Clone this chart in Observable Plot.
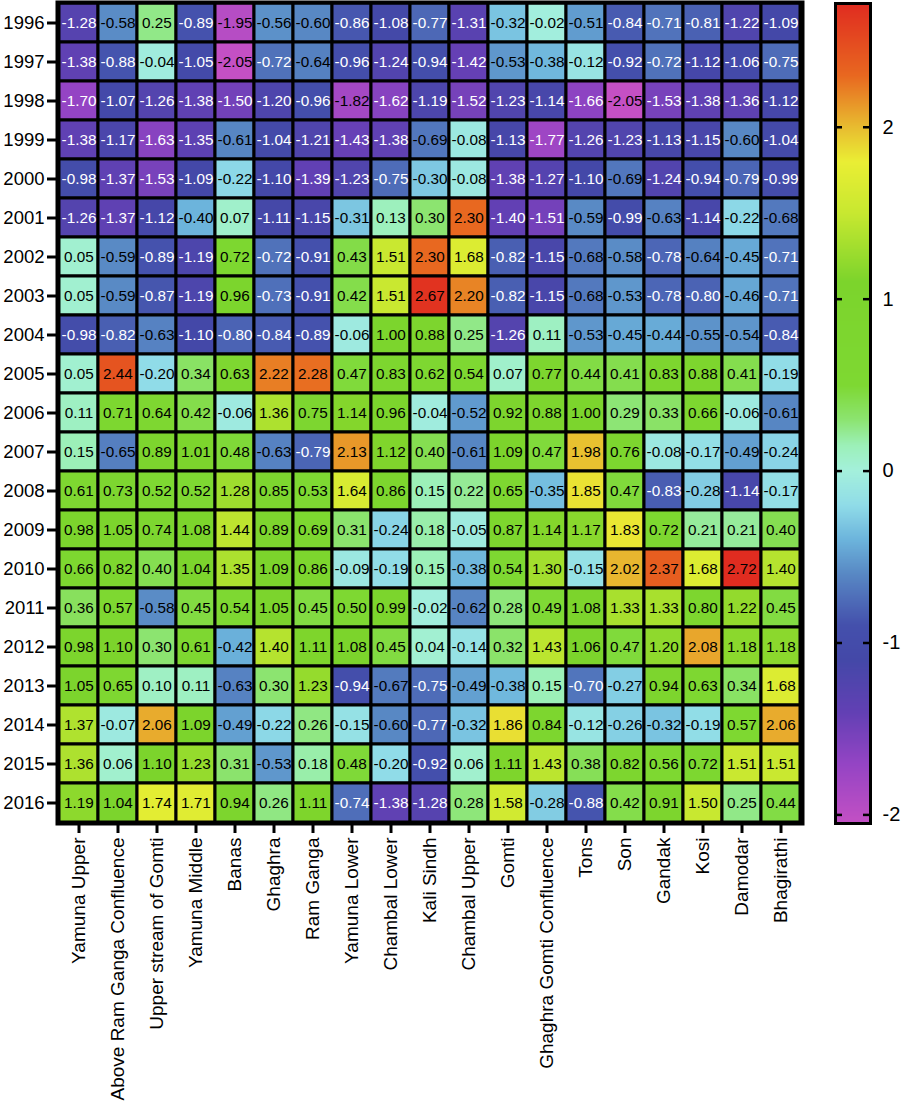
<!DOCTYPE html>
<html>
<head>
<meta charset="utf-8">
<script src="https://cdn.jsdelivr.net/npm/d3@7"></script>
<script src="https://cdn.jsdelivr.net/npm/@observablehq/plot@0.6"></script>
<style>
  html, body { margin: 0; padding: 0; background: #fff; overflow: hidden; }
  #wrap { position: relative; width: 903px; height: 1107px; font-family: "Liberation Sans", Arial, sans-serif; }
  #wrap svg { position: absolute; left: 0; top: 0; background: transparent; overflow: visible; }
</style>
</head>
<body>
<div id="wrap"></div>
<script>
const rivers = ["Yamuna Upper", "Above Ram Ganga Confluence", "Upper stream of Gomti", "Yamuna Middle", "Banas", "Ghaghra", "Ram Ganga", "Yamuna Lower", "Chambal Lower", "Kali Sindh", "Chambal Upper", "Gomti", "Ghaghra Gomti Confluence", "Tons", "Son", "Gandak", "Kosi", "Damodar", "Bhagirathi"];
const years = ["1996", "1997", "1998", "1999", "2000", "2001", "2002", "2003", "2004", "2005", "2006", "2007", "2008", "2009", "2010", "2011", "2012", "2013", "2014", "2015", "2016"];
const values = [
  [-1.28, -0.58, 0.25, -0.89, -1.95, -0.56, -0.60, -0.86, -1.08, -0.77, -1.31, -0.32, -0.02, -0.51, -0.84, -0.71, -0.81, -1.22, -1.09],
  [-1.38, -0.88, -0.04, -1.05, -2.05, -0.72, -0.64, -0.96, -1.24, -0.94, -1.42, -0.53, -0.38, -0.12, -0.92, -0.72, -1.12, -1.06, -0.75],
  [-1.70, -1.07, -1.26, -1.38, -1.50, -1.20, -0.96, -1.82, -1.62, -1.19, -1.52, -1.23, -1.14, -1.66, -2.05, -1.53, -1.38, -1.36, -1.12],
  [-1.38, -1.17, -1.63, -1.35, -0.61, -1.04, -1.21, -1.43, -1.38, -0.69, -0.08, -1.13, -1.77, -1.26, -1.23, -1.13, -1.15, -0.60, -1.04],
  [-0.98, -1.37, -1.53, -1.09, -0.22, -1.10, -1.39, -1.23, -0.75, -0.30, -0.08, -1.38, -1.27, -1.10, -0.69, -1.24, -0.94, -0.79, -0.99],
  [-1.26, -1.37, -1.12, -0.40, 0.07, -1.11, -1.15, -0.31, 0.13, 0.30, 2.30, -1.40, -1.51, -0.59, -0.99, -0.63, -1.14, -0.22, -0.68],
  [0.05, -0.59, -0.89, -1.19, 0.72, -0.72, -0.91, 0.43, 1.51, 2.30, 1.68, -0.82, -1.15, -0.68, -0.58, -0.78, -0.64, -0.45, -0.71],
  [0.05, -0.59, -0.87, -1.19, 0.96, -0.73, -0.91, 0.42, 1.51, 2.67, 2.20, -0.82, -1.15, -0.68, -0.53, -0.78, -0.80, -0.46, -0.71],
  [-0.98, -0.82, -0.63, -1.10, -0.80, -0.84, -0.89, -0.06, 1.00, 0.88, 0.25, -1.26, 0.11, -0.53, -0.45, -0.44, -0.55, -0.54, -0.84],
  [0.05, 2.44, -0.20, 0.34, 0.63, 2.22, 2.28, 0.47, 0.83, 0.62, 0.54, 0.07, 0.77, 0.44, 0.41, 0.83, 0.88, 0.41, -0.19],
  [0.11, 0.71, 0.64, 0.42, -0.06, 1.36, 0.75, 1.14, 0.96, -0.04, -0.52, 0.92, 0.88, 1.00, 0.29, 0.33, 0.66, -0.06, -0.61],
  [0.15, -0.65, 0.89, 1.01, 0.48, -0.63, -0.79, 2.13, 1.12, 0.40, -0.61, 1.09, 0.47, 1.98, 0.76, -0.08, -0.17, -0.49, -0.24],
  [0.61, 0.73, 0.52, 0.52, 1.28, 0.85, 0.53, 1.64, 0.86, 0.15, 0.22, 0.65, -0.35, 1.85, 0.47, -0.83, -0.28, -1.14, -0.17],
  [0.98, 1.05, 0.74, 1.08, 1.44, 0.89, 0.69, 0.31, -0.24, 0.18, -0.05, 0.87, 1.14, 1.17, 1.83, 0.72, 0.21, 0.21, 0.40],
  [0.66, 0.82, 0.40, 1.04, 1.35, 1.09, 0.86, -0.09, -0.19, 0.15, -0.38, 0.54, 1.30, -0.15, 2.02, 2.37, 1.68, 2.72, 1.40],
  [0.36, 0.57, -0.58, 0.45, 0.54, 1.05, 0.45, 0.50, 0.99, -0.02, -0.62, 0.28, 0.49, 1.08, 1.33, 1.33, 0.80, 1.22, 0.45],
  [0.98, 1.10, 0.30, 0.61, -0.42, 1.40, 1.11, 1.08, 0.45, 0.04, -0.14, 0.32, 1.43, 1.06, 0.47, 1.20, 2.08, 1.18, 1.18],
  [1.05, 0.65, 0.10, 0.11, -0.63, 0.30, 1.23, -0.94, -0.67, -0.75, -0.49, -0.38, 0.15, -0.70, -0.27, 0.94, 0.63, 0.34, 1.68],
  [1.37, -0.07, 2.06, 1.09, -0.49, -0.22, 0.26, -0.15, -0.60, -0.77, -0.32, 1.86, 0.84, -0.12, -0.26, -0.32, -0.19, 0.57, 2.06],
  [1.36, 0.06, 1.10, 1.23, 0.31, -0.53, 0.18, 0.48, -0.20, -0.92, 0.06, 1.11, 1.43, 0.38, 0.82, 0.56, 0.72, 1.51, 1.51],
  [1.19, 1.04, 1.74, 1.71, 0.94, 0.26, 1.11, -0.74, -1.38, -1.28, 0.28, 1.58, -0.28, -0.88, 0.42, 0.91, 1.50, 0.25, 0.44]
];
const legendTicks = [-2, -1, 0, 1, 2];
const legendDomain = [-2.05, 2.72];

const colorStops = [-2.05, -1.7, -1.4, -1.1, -0.9, -0.6, -0.4, -0.2, 0, 0.15, 0.3, 0.5, 1.1, 1.5, 1.8, 2.0, 2.3, 2.72];
const colorRange = ["#c450c4", "#9444c4", "#6240b4", "#4448a8", "#4450ac", "#5888c4", "#6cb4dc", "#90dce8", "#a4f0dc", "#9cf0b8", "#8ce470", "#7ed832", "#7cd42c", "#c8e830", "#eaee34", "#e8bc30", "#e86820", "#e02c20"];
const colorOpts = {type: "linear", domain: colorStops, range: colorRange};

const data = years.flatMap((y, i) => rivers.map((r, j) => ({year: y, river: r, v: values[i][j]})));
const font = "Liberation Sans, Arial, sans-serif";

const main = Plot.plot({
  width: 903, height: 1107,
  marginLeft: 57, marginRight: 101, marginTop: 2, marginBottom: 284,
  style: {fontFamily: font, background: "transparent", color: "black"},
  x: {domain: rivers, padding: 0},
  y: {domain: years, padding: 0},
  color: colorOpts,
  marks: [
    Plot.cell(data, {x: "river", y: "year", fill: "v", stroke: "black", strokeWidth: 3, inset: 0}),
    Plot.text(data, {x: "river", y: "year", text: d => d.v.toFixed(2), fontSize: 15.3,
      fill: d => (d.v <= -0.70 && d.v > -1.8) ? "white" : "black"}),
    Plot.frame({stroke: "black", strokeWidth: 4}),
    Plot.axisX({anchor: "bottom", tickSize: 10, tickPadding: 4, tickRotate: -90, fontSize: 19, strokeWidth: 3, label: null}),
    Plot.axisY({anchor: "left", tickSize: 10, tickPadding: 3, fontSize: 18.5, strokeWidth: 3, label: null})
  ]
});

const barMarks = [];
if (Plot.raster) {
  barMarks.push(Plot.raster({x1: 0, x2: 1, y1: legendDomain[0], y2: legendDomain[1], width: 2, height: 820, fill: (x, y) => y}));
} else {
  const steps = d3.range(legendDomain[0], legendDomain[1], 0.01);
  barMarks.push(Plot.rect(steps, {x1: 0, x2: 1, y1: d => d, y2: d => Math.min(d + 0.011, legendDomain[1]), fill: d => d}));
}
barMarks.push(
  Plot.ruleY(legendTicks, {x1: 0, x2: 0.2, stroke: "black", strokeWidth: 2.5}),
  Plot.ruleY(legendTicks, {x1: 0.8, x2: 1, stroke: "black", strokeWidth: 2.5}),
  Plot.frame({stroke: "black", strokeWidth: 3}),
  Plot.axisY(legendTicks, {anchor: "right", tickSize: 0, tickPadding: 12, fontSize: 20, label: null,
    tickFormat: d => String(d)})
);

const bar = Plot.plot({
  width: 903, height: 1107,
  marginLeft: 835, marginRight: 33, marginTop: 3, marginBottom: 284,
  style: {fontFamily: font, background: "transparent", color: "black"},
  x: {domain: [0, 1], axis: null},
  y: {domain: legendDomain, axis: null},
  color: colorOpts,
  marks: barMarks
});

document.getElementById("wrap").append(main, bar);
</script>
</body>
</html>
